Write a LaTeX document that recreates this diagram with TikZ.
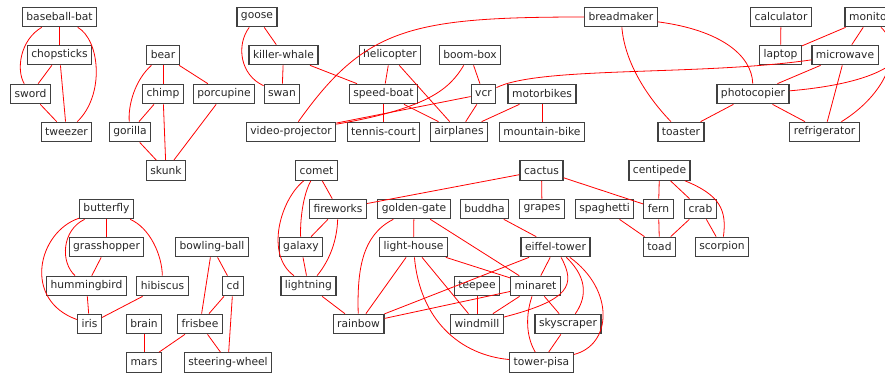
\documentclass[tikz,border=0pt]{standalone}
\usepackage{fontspec}
\setmainfont{DejaVu Sans}
\tikzset{
  word/.style={draw=black!75, line width=1.2pt, text=black!85, inner xsep=4pt, inner ysep=0pt,
    minimum height=19.5pt, font=\fontsize{10.7}{12}\selectfont},
  link/.style={color=red, line width=0.8pt}
}
\def\wordnode{\node[word]}
\def\drawlink{\draw[link]}

\begin{document}
\begin{tikzpicture}[x=1pt, y=-1pt]
\useasboundingbox (0,0) rectangle (885,373);
% row 1
\wordnode (bat) at (59.5,17) {baseball-bat};
\wordnode (goose) at (257,17) {goose};
\wordnode (bread) at (621,17) {breadmaker};
\wordnode (calc) at (781,17) {calculator};
\wordnode (monitor) at (870,17) {monitor};
% row 2
\wordnode (chop) at (59.5,55) {chopsticks};
\wordnode (bear) at (163,55) {bear};
\wordnode (whale) at (283.5,55) {killer-whale};
\wordnode (heli) at (390,55) {helicopter};
\wordnode (boombox) at (470,55) {boom-box};
\wordnode (laptop) at (780.5,55) {laptop};
\wordnode (micro) at (845,55) {microwave};
% row 3
\wordnode (sword) at (30.5,94) {sword};
\wordnode (chimp) at (163,94) {chimp};
\wordnode (porc) at (224,94) {porcupine};
\wordnode (swan) at (282,94) {swan};
\wordnode (speed) at (383.5,94) {speed-boat};
\wordnode (vcr) at (483.5,94) {vcr};
\wordnode (motor) at (542,94) {motorbikes};
\wordnode (photo) at (753,94) {photocopier};
% row 4
\wordnode (tweezer) at (66.5,132) {tweezer};
\wordnode (gorilla) at (130,132) {gorilla};
\wordnode (vproj) at (291,132) {video-projector};
\wordnode (tennis) at (383.5,132) {tennis-court};
\wordnode (air) at (459,132) {airplanes};
\wordnode (mbike) at (542,132) {mountain-bike};
\wordnode (toaster) at (681,132) {toaster};
\wordnode (fridge) at (824.5,132) {refrigerator};
% row 5
\wordnode (skunk) at (166,170.5) {skunk};
\wordnode (comet) at (316.5,170.5) {comet};
\wordnode (cactus) at (541.5,170.5) {cactus};
\wordnode (centi) at (659.5,170.5) {centipede};
% row 6
\wordnode (bfly) at (106.5,209) {butterfly};
\wordnode (fire) at (338,209) {fireworks};
\wordnode (gate) at (414,209) {golden-gate};
\wordnode (buddha) at (484.5,209) {buddha};
\wordnode (grapes) at (542,209) {grapes};
\wordnode (spag) at (604.5,209) {spaghetti};
\wordnode (fern) at (658.5,209) {fern};
\wordnode (crab) at (700.5,209) {crab};
% row 7
\wordnode (grass) at (106.5,247) {grasshopper};
\wordnode (bowl) at (212,247) {bowling-ball};
\wordnode (galaxy) at (301,247) {galaxy};
\wordnode (lhouse) at (413.5,247) {light-house};
\wordnode (eiffel) at (555.5,247) {eiffel-tower};
\wordnode (toad) at (659.5,247) {toad};
\wordnode (scorp) at (722,247) {scorpion};
% row 8
\wordnode (humming) at (86.5,286) {hummingbird};
\wordnode (hibis) at (162.5,286) {hibiscus};
\wordnode (cd) at (233,286) {cd};
\wordnode (light) at (308.5,286) {lightning};
\wordnode (teepee) at (477,286) {teepee};
\wordnode (minaret) at (535.5,286) {minaret};
% row 9
\wordnode (iris) at (89.5,324) {iris};
\wordnode (brain) at (144,324) {brain};
\wordnode (frisbee) at (200,324) {frisbee};
\wordnode (rainbow) at (358.5,324) {rainbow};
\wordnode (windmill) at (477,324) {windmill};
\wordnode (sky) at (568,324) {skyscraper};
% row 10
\wordnode (mars) at (144,362.5) {mars};
\wordnode (steer) at (228,362.5) {steering-wheel};
\wordnode (pisa) at (541.5,362.5) {tower-pisa};

% top left group
\drawlink (bat) -- (chop);
\drawlink (bat) .. controls (20,40) and (16,70) .. (sword);
\drawlink (bat) .. controls (100,40) and (105,95) .. (tweezer);
\drawlink (chop) -- (sword);
\drawlink (chop) -- (tweezer);
\drawlink (sword) -- (tweezer);
\drawlink (bear) -- (chimp);
\drawlink (bear) -- (porc);
\drawlink (bear) .. controls (135,80) and (128,105) .. (gorilla);
\drawlink (chimp) -- (gorilla);
\drawlink (chimp) -- (skunk);
\drawlink (porc) -- (skunk);
\drawlink (gorilla) -- (skunk);
% top middle
\drawlink (goose) -- (whale);
\drawlink (goose) .. controls (236,45) and (240,75) .. (swan);
\drawlink (whale) -- (swan);
\drawlink (whale) -- (speed);
\drawlink (heli) -- (speed);
\drawlink (heli) -- (air);
\drawlink (speed) -- (tennis);
\drawlink (speed) -- (air);
\drawlink (boombox) -- (vcr);
\drawlink (boombox) .. controls (450,88) and (430,108) .. (vproj);
\drawlink (vcr) -- (vproj);
\drawlink (vcr) -- (air);
\drawlink (motor) -- (air);
\drawlink (motor) -- (mbike);
\drawlink (bread) .. controls (410,17) and (365,28) .. (vproj);
\drawlink (bread) .. controls (625,65) and (650,100) .. (toaster);
\drawlink (bread) .. controls (720,30) and (752,55) .. (photo);
\drawlink (vcr) .. controls (540,66) and (700,76) .. (micro);
% top right
\drawlink (calc) -- (laptop);
\drawlink (monitor) -- (laptop);
\drawlink (monitor) -- (micro);
\drawlink (monitor) .. controls (915,40) and (915,80) .. (photo);
\drawlink (monitor) .. controls (905,50) and (885,95) .. (fridge);
\drawlink (micro) -- (photo);
\drawlink (micro) -- (fridge);
\drawlink (photo) -- (toaster);
\drawlink (photo) -- (fridge);
% bottom middle
\drawlink (comet) -- (fire);
\drawlink (comet) .. controls (303,195) and (300,220) .. (galaxy);
\drawlink (comet) .. controls (280,200) and (265,255) .. (light);
\drawlink (fire) -- (galaxy);
\drawlink (fire) .. controls (337,240) and (330,260) .. (light);
\drawlink (galaxy) -- (light);
\drawlink (light) -- (rainbow);
\drawlink (cactus) -- (fire);
\drawlink (cactus) -- (grapes);
\drawlink (cactus) -- (fern);
\drawlink (gate) -- (lhouse);
\drawlink (gate) .. controls (362,235) and (357,270) .. (rainbow);
\drawlink (gate) -- (minaret);
\drawlink (buddha) -- (eiffel);
\drawlink (lhouse) -- (rainbow);
\drawlink (lhouse) -- (minaret);
\drawlink (lhouse) -- (windmill);
\drawlink (lhouse) .. controls (420,320) and (460,355) .. (pisa);
\drawlink (eiffel) -- (rainbow);
\drawlink (eiffel) -- (minaret);
\drawlink (eiffel) .. controls (576,285) and (570,300) .. (windmill);
\drawlink (eiffel) .. controls (590,280) and (585,300) .. (sky);
\drawlink (eiffel) .. controls (615,290) and (612,345) .. (pisa);
\drawlink (teepee) -- (windmill);
\drawlink (minaret) -- (rainbow);
\drawlink (minaret) -- (windmill);
\drawlink (minaret) -- (sky);
\drawlink (minaret) .. controls (524,320) and (528,340) .. (pisa);
\drawlink (sky) -- (pisa);
% bottom right
\drawlink (centi) -- (fern);
\drawlink (centi) -- (crab);
\drawlink (centi) .. controls (720,195) and (727,210) .. (scorp);
\drawlink (spag) -- (toad);
\drawlink (fern) -- (toad);
\drawlink (crab) -- (toad);
\drawlink (crab) -- (scorp);
% bottom left
\drawlink (bfly) -- (grass);
\drawlink (bfly) .. controls (62,230) and (60,262) .. (humming);
\drawlink (bfly) .. controls (38,232) and (22,300) .. (iris);
\drawlink (bfly) .. controls (150,228) and (162,255) .. (hibis);
\drawlink (grass) -- (humming);
\drawlink (humming) -- (iris);
\drawlink (hibis) -- (iris);
\drawlink (bowl) -- (cd);
\drawlink (bowl) -- (frisbee);
\drawlink (cd) -- (frisbee);
\drawlink (cd) -- (steer);
\drawlink (frisbee) -- (mars);
\drawlink (frisbee) -- (steer);
\drawlink (brain) -- (mars);
\end{tikzpicture}
\end{document}
